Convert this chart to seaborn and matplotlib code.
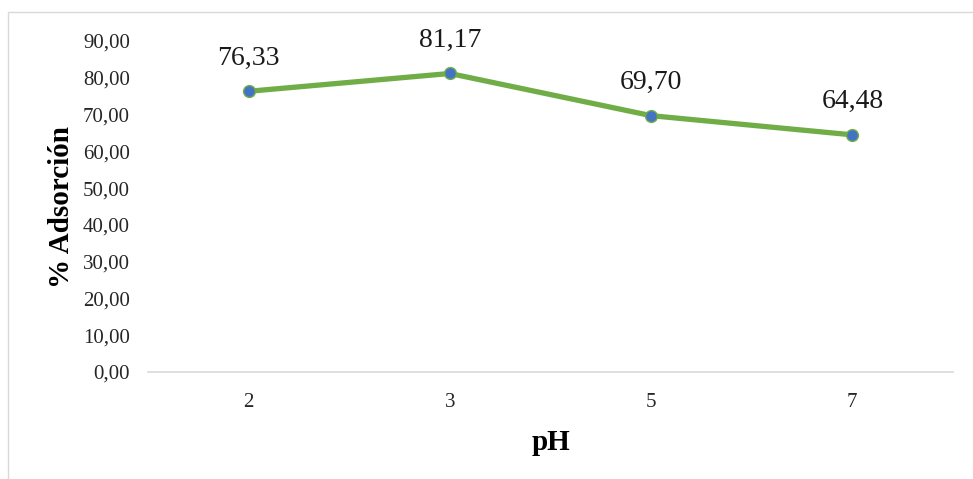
import matplotlib
matplotlib.use("Agg")
import matplotlib.pyplot as plt
import seaborn as sns
import pandas as pd
from matplotlib.patches import Rectangle

ph_labels = ["2", "3", "5", "7"]
adsorption = [76.33, 81.17, 69.70, 64.48]
y_ticks = [0, 10, 20, 30, 40, 50, 60, 70, 80, 90]

sns.set_theme(style="white")
plt.rcParams["font.family"] = ["Liberation Serif", "DejaVu Serif"]

df = pd.DataFrame({"pH": ph_labels, "ads": adsorption})

fig = plt.figure(figsize=(9.73, 4.79), dpi=100)
ax = fig.add_axes([148/973, 1-372/479, (953-148)/973, (372-41)/479])

sns.lineplot(data=df, x="pH", y="ads", ax=ax, color="#70AD47", linewidth=3.8,
             marker="o", markersize=8.5, markerfacecolor="#4472C4",
             markeredgecolor="#70AD47", markeredgewidth=1.0, sort=False)

for i, v in enumerate(adsorption):
    ax.annotate(f"{v:.2f}".replace(".", ","), (i, v), xytext=(0, 15),
                textcoords="offset points", ha="center", va="bottom",
                fontsize=20, color="#1a1a1a")

ax.set_xlim(-0.5, 3.5)
ax.set_ylim(0, 90)
ax.set_yticks(y_ticks)
ax.set_yticklabels([f"{t:.2f}".replace(".", ",") for t in y_ticks], fontsize=15, color="#262626")
ax.tick_params(axis="x", labelsize=15, labelcolor="#262626", length=0, pad=15)
ax.tick_params(axis="y", length=0, pad=13)
for s in ["top", "right", "left"]:
    ax.spines[s].set_visible(False)
ax.spines["bottom"].set_color("#D9D9D9")
ax.spines["bottom"].set_linewidth(1.2)
ax.set_xlabel("pH", fontsize=21, fontweight="bold", color="#000000", labelpad=12)
ax.set_ylabel("% Adsorción", fontsize=21, fontweight="bold", color="#000000", labelpad=6)

fig.patches.append(Rectangle((8/973, -0.05), 1.1, 1 - 12/479 + 0.05, transform=fig.transFigure,
                             fill=False, edgecolor="#D9D9D9", linewidth=1.0, zorder=0))

fig.savefig("out.png", dpi=100)
